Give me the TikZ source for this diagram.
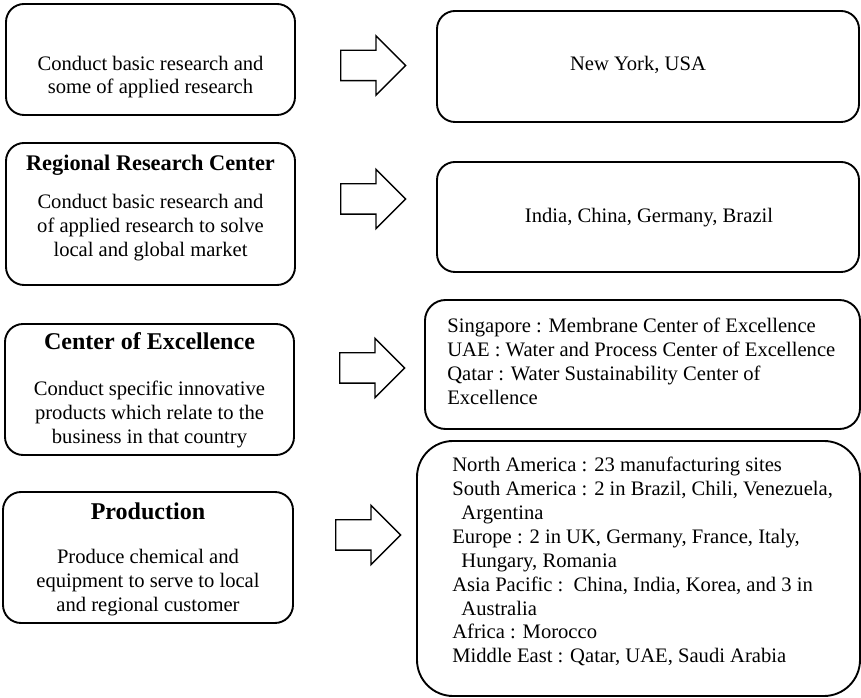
\documentclass[tikz,border=0pt]{standalone}
\usepackage{fontspec}
\setmainfont{Liberation Serif}
\usetikzlibrary{shapes.arrows}
\newcommand{\px}{0.5824pt}
\begin{document}
\begin{tikzpicture}[x=0.5824pt,y=-0.5824pt,
	box/.style={draw,line width=1.1pt,rounded corners=10.5pt,inner sep=0pt},
	txt/.style={align=center,font=\fontsize{12pt}{13.9pt}\selectfont},
	lst/.style={align=left,anchor=north west,inner sep=0pt,font=\fontsize{12pt}{13.9pt}\selectfont},
	bigarrow/.style={draw,line width=0.8pt,single arrow,anchor=tail,single arrow head extend=14.5*\px,inner xsep=0pt,inner ysep=14.5*\px,minimum height=65*\px}]
	\useasboundingbox (0,0) rectangle (861,698);
	% left column
	\node[box,minimum width=289*\px,minimum height=111*\px] (hq) at (150.5,59.5) {};
	\node[txt] (hqtext) at (150.5,77) {Conduct basic research and\\some of applied research};
	\node[box,minimum width=289*\px,minimum height=142*\px] (regional) at (150.5,214) {};
	\node[txt] (regionaltext) at (150.5,208) {\fontsize{13pt}{15pt}\selectfont\bfseries Regional Research Center\\[8pt]Conduct basic research and\\of applied research to solve\\local and global market};
	\node[box,minimum width=289*\px,minimum height=131*\px] (excellence) at (149.5,389.5) {};
	\node[txt] (excellencetext) at (149.5,390) {\fontsize{14pt}{16pt}\selectfont\bfseries Center of Excellence\\[13pt]Conduct specific innovative\\products which relate to the\\business in that country};
	\node[box,minimum width=290*\px,minimum height=131*\px] (production) at (148,557.5) {};
	\node[txt] (productiontext) at (148,559) {\fontsize{14pt}{16pt}\selectfont\bfseries Production\\[12pt]Produce chemical and\\equipment to serve to local\\and regional customer};
	% arrows
	\node[bigarrow] (ar1) at (340,65.5) {};
	\node[bigarrow] (ar2) at (340,199) {};
	\node[bigarrow] (ar3) at (339,368) {};
	\node[bigarrow] (ar4) at (335,535) {};
	% right column
	\node[box,minimum width=422*\px,minimum height=111*\px] (newyork) at (648,66.5) {};
	\node[txt] (newyorktext) at (638,65) {New York, USA};
	\node[box,minimum width=422*\px,minimum height=110*\px] (sites) at (648,217) {};
	\node[txt] (sitestext) at (649,218) {India, China, Germany, Brazil};
	\node[box,rounded corners=12pt,minimum width=435*\px,minimum height=129*\px] (coesites) at (642.5,364.5) {};
	\node[lst] (coesitestext) at (447,318) {Singapore : Membrane Center of Excellence\\UAE : Water and Process Center of Excellence\\Qatar : Water Sustainability Center of\\Excellence};
	\node[box,rounded corners=21pt,minimum width=443*\px,minimum height=255*\px] (plants) at (638.5,568.5) {};
	\node[lst] (plantstext) at (452,457) {North America : 23 manufacturing sites\\South America : 2 in Brazil, Chili, Venezuela,\\\hspace*{5.3pt}Argentina\\Europe : 2 in UK, Germany, France, Italy,\\\hspace*{5.3pt}Hungary, Romania\\Asia Pacific :\ \ China, India, Korea, and 3 in\\\hspace*{5.3pt}Australia\\Africa : Morocco\\Middle East : Qatar, UAE, Saudi Arabia};
\end{tikzpicture}
\end{document}
